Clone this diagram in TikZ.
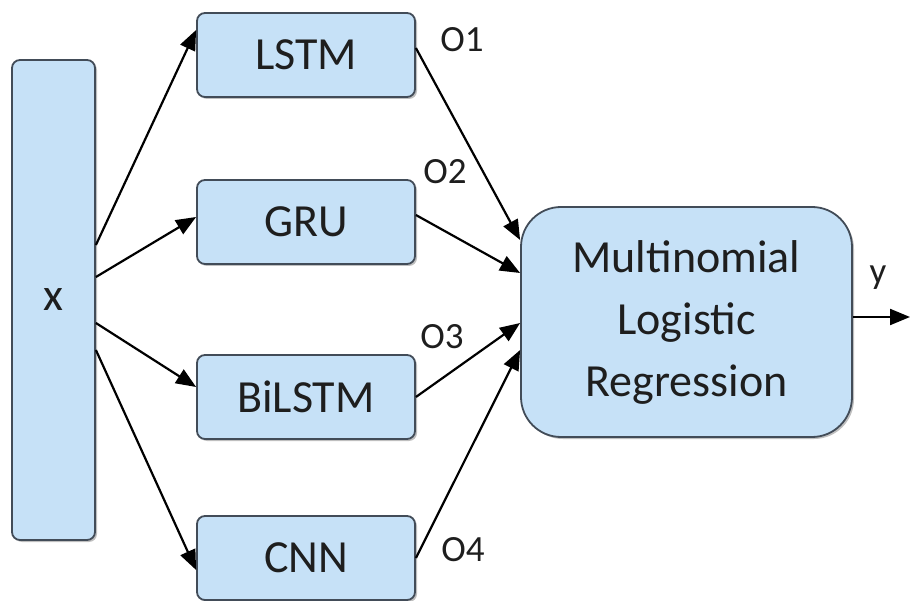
\documentclass[tikz,border=0pt]{standalone}
\definecolor{BoxBlue}{RGB}{198,225,247}
\definecolor{BoxEdge}{RGB}{66,76,88}
\definecolor{TextGray}{RGB}{30,30,30}
\usepackage{fontspec}
\setmainfont{Carlito}
\usepackage{tikz}
\usetikzlibrary{arrows.meta, shadows, calc}

\begin{document}
\begin{tikzpicture}[x=1pt, y=-1pt,
	box/.style={draw=BoxEdge, line width=1.8pt, fill=BoxBlue, text=TextGray,
		drop shadow={shadow xshift=2pt, shadow yshift=-2pt, fill=black, opacity=0.25},
		font=\fontsize{46}{62}\selectfont},
	inbar/.style={box, rounded corners=8pt, minimum width=83pt, minimum height=480pt},
	model/.style={box, rounded corners=8pt, minimum width=218pt, minimum height=84pt},
	combiner/.style={box, rounded corners=40pt, minimum width=331pt, minimum height=230pt, align=center},
	outlabel/.style={text=TextGray, font=\fontsize{37}{40}\selectfont, inner sep=0pt},
	link/.style={line width=2.2pt, -{Triangle[length=20pt, width=16pt]}}]
	\useasboundingbox (0,0) rectangle (910,601);

	\node[inbar] (x) at (53.5,300) {x};

	\node[model] (lstm) at (306,55) {LSTM};
	\node[model] (gru) at (306,222) {GRU};
	\node[model] (bilstm) at (306,397) {BiLSTM};
	\node[model] (cnn) at (306,558) {CNN};

	\node[combiner] (mlr) at (686.5,322) {Multinomial\\Logistic\\Regression};

	% input to the four models
	\draw[link] ($(x.east)+(0,-55)$) -- ($(lstm.west)+(0,-25)$);
	\draw[link] ($(x.east)+(0,-23)$) -- ($(gru.west)+(0,-5)$);
	\draw[link] ($(x.east)+(0,23)$) -- ($(bilstm.west)+(0,-10)$);
	\draw[link] ($(x.east)+(0,50)$) -- ($(cnn.west)+(0,12)$);

	% model outputs to the combiner
	\draw[link] ($(lstm.east)+(0,-7)$) -- ($(mlr.west)+(0,-82)$);
	\draw[link] ($(gru.east)+(0,-7)$) -- ($(mlr.west)+(0,-49)$);
	\draw[link] (bilstm.east) -- ($(mlr.west)+(0,1)$);
	\draw[link] (cnn.east) -- ($(mlr.west)+(0,28)$);

	\coordinate (yend) at (910,317);
	\draw[link] (mlr.east |- yend) -- (yend);

	\node[outlabel] (o1) at (462,40) {O1};
	\node[outlabel] (o2) at (445,172) {O2};
	\node[outlabel] (o3) at (442,337) {O3};
	\node[outlabel] (o4) at (463,550) {O4};
	\node[outlabel] (y) at (878,278) {y};
\end{tikzpicture}
\end{document}
